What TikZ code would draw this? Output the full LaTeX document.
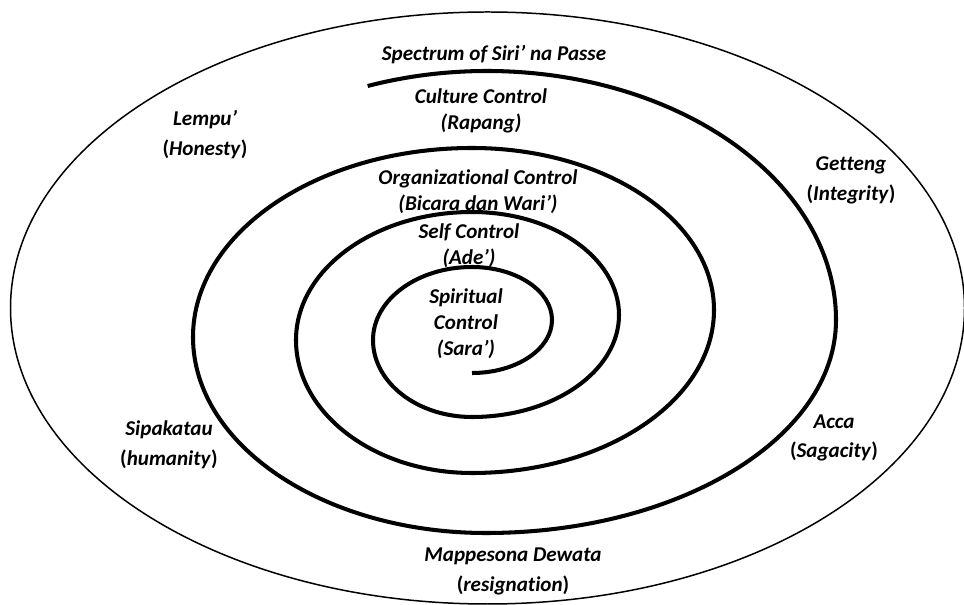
\documentclass[tikz,border=0pt]{standalone}
\usepackage{fontspec}
\setmainfont[Ligatures={NoCommon}]{Carlito}
\usetikzlibrary{positioning}

\begin{document}
\begin{tikzpicture}[x=0.02cm, y=0.02cm,
    every node/.style={font=\fontsize{12}{14.7}\selectfont\bfseries\itshape, align=center, inner sep=0pt},
    virtue/.style={font=\fontsize{12}{17}\selectfont\bfseries\itshape},
    ring/.style={draw=black, line width=0.85pt},
    spiralline/.style={draw=black, line width=2.3pt}
]
\useasboundingbox (0,0) rectangle (964,605);

% Outer ellipse
\draw[ring] (487.5,297) ellipse [x radius=477, y radius=296];

% Spiral, quarter by quarter from the outside in
\draw[spiralline] (487,285) ++(110:349 and 249)
    arc[start angle=110, end angle=0, x radius=349, y radius=249]
    \foreach \s/\rx/\ry in {0/350/213, -90/293/196, 180/279/189,
                            90/242/162, 0/242/163, -90/176/133, 180/176/128,
                            90/147/103, 0/147/102, -90/99/77, 180/99/73,
                            90/80/53, 0/80/53} {
        arc[start angle=\s, delta angle=-90, x radius=\rx, y radius=\ry]
    };

% Controls inside the spiral
\node (spectrum) at (494,550) {Spectrum of Siri’ na Passe};
\node (culture) at (481,494.5) {Culture Control\\(Rapang)};
\node (organ) at (478,413.5) {Organizational Control\\(Bicara dan Wari’)};
\node (self) at (469,359) {Self Control\\(Ade’)};
\node (spirit) at (466,281) {Spiritual\\Control\\(Sara’)};

% Values round the outside
\node[virtue] (lempu) at (205,470) {Lempu’\\\textup{(}Honesty\textup{)}};
\node[virtue] (getteng) at (851,425) {Getteng\\\textup{(}Integrity\textup{)}};
\node[virtue] (sipakatau) at (169,160) {Sipakatau\\\textup{(}humanity\textup{)}};
\node[virtue] (acca) at (834,167) {Acca\\\textup{(}Sagacity\textup{)}};
\node[virtue] (mappesona) at (513,33.5) {Mappesona Dewata\\\textup{(}resignation\textup{)}};

\end{tikzpicture}
\end{document}
